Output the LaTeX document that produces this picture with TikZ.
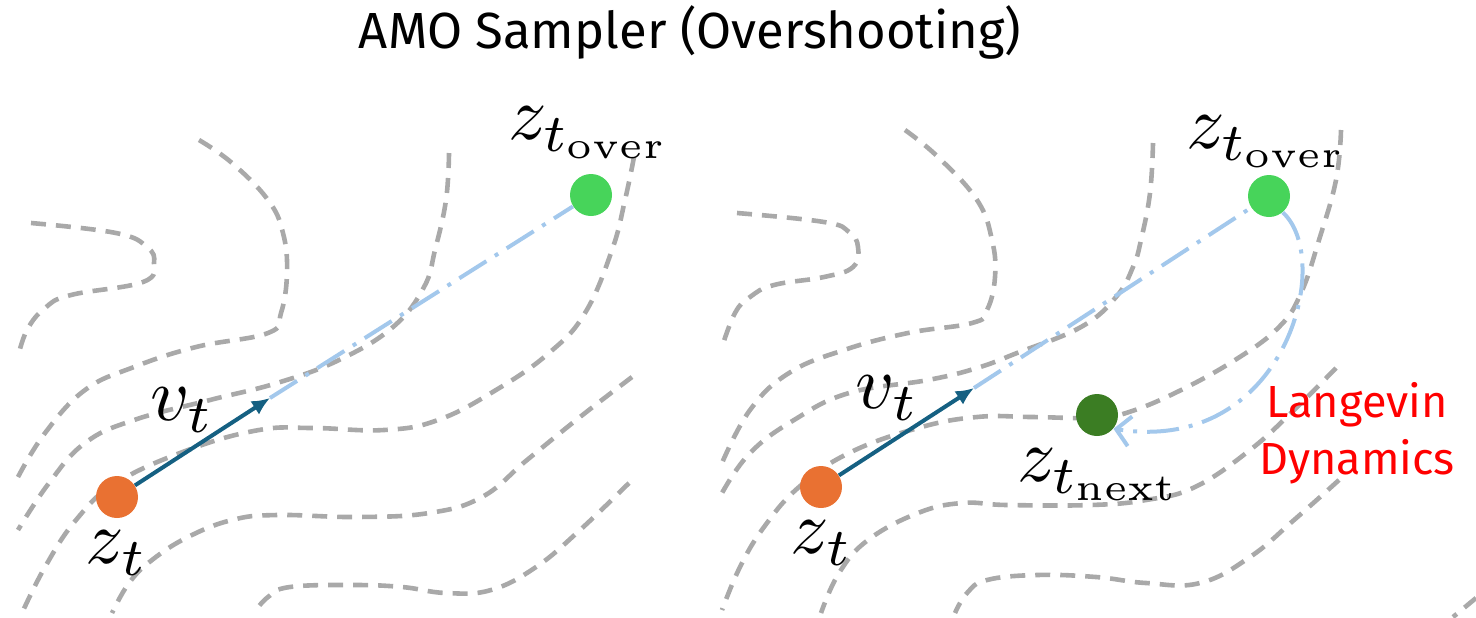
\documentclass[tikz,border=0pt]{standalone}
\usepackage{fontspec}
\setsansfont{Fira Sans}
\usetikzlibrary{arrows.meta,positioning}
\definecolor{amoGray}{HTML}{A9A9A9}
\definecolor{amoOrange}{HTML}{E97132}
\definecolor{amoGreen}{HTML}{47D45A}
\definecolor{amoDark}{HTML}{3B7D23}
\definecolor{amoBlue}{HTML}{156082}
\definecolor{amoSky}{HTML}{A3C8EC}
\definecolor{amoRed}{HTML}{FF0000}
\tikzset{
  amolevel/.style={draw=amoGray,line width=2.3pt,dash pattern=on 7.5pt off 5pt},
  amodot/.style={circle,minimum size=21pt,inner sep=0pt},
  amomath/.style={inner sep=0pt,scale=3.8,transform shape},
  amovel/.style={-{Latex[length=9pt,width=8pt]},amoBlue,line width=2pt},
  amoshoot/.style={amoSky,line width=2pt,dash pattern=on 16pt off 5pt on 2pt off 5pt},
  amolangevin/.style={amoshoot,-{Straight Barb[length=7pt,width=15pt]}},
  amotitle/.style={font=\sffamily\fontsize{25.4}{30}\selectfont},
  amonote/.style={font=\sffamily\fontsize{22.5}{28.5}\selectfont,text=amoRed,align=center}
}
\begin{document}
\begin{tikzpicture}[x=0.5pt,y=-0.5pt]
  \useasboundingbox (0,0) rectangle (1476,617);

  % level lines, left panel
  \draw[amolevel] plot[smooth,tension=0.7] coordinates {(31,223) (116,233) (147,247) (154,263) (143,282) (71,295) (45,308) (27,330) (18,357)};
  \draw[amolevel] plot[smooth,tension=0.7] coordinates {(199,140) (232,163) (268,200) (283,233) (287,273) (281,313) (268,333) (196,347) (134,367) (85,390) (45,433) (18,477)};
  \draw[amolevel] plot[smooth,tension=0.7] coordinates {(449,153) (446,200) (435,250) (424,287) (393,327) (339,360) (277,383) (210,400) (134,420) (85,443) (49,483) (18,530)};
  \draw[amolevel] plot[smooth,tension=0.7] coordinates {(634,157) (625,200) (612,250) (585,313) (549,353) (496,390) (438,420) (384,430) (313,428) (259,430) (188,450) (116,483) (76,520) (45,567) (22,613)};
  \draw[amolevel] plot[smooth,tension=0.7] coordinates {(632,377) (580,417) (527,460) (482,497) (429,513) (357,517) (277,515) (232,520) (188,537) (152,560) (129,583) (112,613)};
  \draw[amolevel] plot[smooth,tension=0.7] coordinates {(629,483) (580,530) (536,567) (491,590) (446,593) (402,587) (353,585) (290,587) (268,597) (254,613)};

  % level lines, right panel
  \draw[amolevel] plot[smooth,tension=0.7] coordinates {(737,213) (824,222) (849,232) (858,247) (853,267) (824,277) (774,285) (750,297) (735,313) (722,347)};
  \draw[amolevel] plot[smooth,tension=0.7] coordinates {(905,130) (938,157) (977,200) (992,240) (995,277) (987,310) (972,323) (908,333) (844,350) (789,373) (750,410) (722,463)};
  \draw[amolevel] plot[smooth,tension=0.7] coordinates {(1153,143) (1150,193) (1141,240) (1133,267) (1116,297) (1081,327) (1017,353) (977,368) (928,380) (849,393) (794,420) (750,453) (722,493)};
  \draw[amolevel] plot[smooth,tension=0.7] coordinates {(1341,130) (1336,180) (1319,240) (1301,293) (1279,327) (1235,360) (1175,393) (1126,413) (1096,418) (1032,417) (977,417) (918,428) (849,453) (799,487) (764,527) (740,567) (722,610)};
  \draw[amolevel] plot[smooth,tension=0.7] coordinates {(1336,368) (1294,410) (1250,450) (1195,487) (1146,500) (1091,505) (1007,505) (962,503) (918,513) (868,540) (839,573) (821,613)};
  \draw[amolevel] plot[smooth,tension=0.7] coordinates {(1339,480) (1294,520) (1250,557) (1200,583) (1146,583) (1096,577) (1037,575) (987,580) (967,593) (955,613)};
  \draw[amolevel] (1476,598) -- (1453,617);

  \node[amotitle,anchor=base] (title) at (690,48) {AMO Sampler (Overshooting)};

  % left panel
  \node[amodot,fill=amoOrange] (zL) at (117,497) {};
  \node[amodot,fill=amoGreen] (overL) at (591,195) {};
  \coordinate (tipL) at (270,398);
  \draw[amoshoot] (tipL) -- (overL);
  \draw[amovel] (zL) -- (tipL);
  \node[amomath] (zLlab) at (117,553) {$z_t$};
  \node[amomath] (vLlab) at (182,410) {$v_t$};
  \node[amomath] (overLlab) at (590,133) {$z_{t_\mathrm{over}}$};

  % right panel
  \node[amodot,fill=amoOrange] (zR) at (821,487) {};
  \node[amodot,fill=amoGreen] (overR) at (1269,196) {};
  \node[amodot,fill=amoDark] (nextR) at (1097,415) {};
  \coordinate (tipR) at (974,388);
  \draw[amoshoot] (tipR) -- (overR);
  \draw[amovel] (zR) -- (tipR);
  \draw[amolangevin] (overR.-50) .. controls (1335,260) and (1285,455) .. (nextR.-40);
  \node[amomath] (zRlab) at (822,543) {$z_t$};
  \node[amomath] (vRlab) at (887,398) {$v_t$};
  \node[amomath] (overRlab) at (1268,142) {$z_{t_\mathrm{over}}$};
  \node[amomath] (nextRlab) at (1100,475) {$z_{t_\mathrm{next}}$};
  \node[amonote] (langevin) at (1357,433) {Langevin\\Dynamics};
\end{tikzpicture}
\end{document}
